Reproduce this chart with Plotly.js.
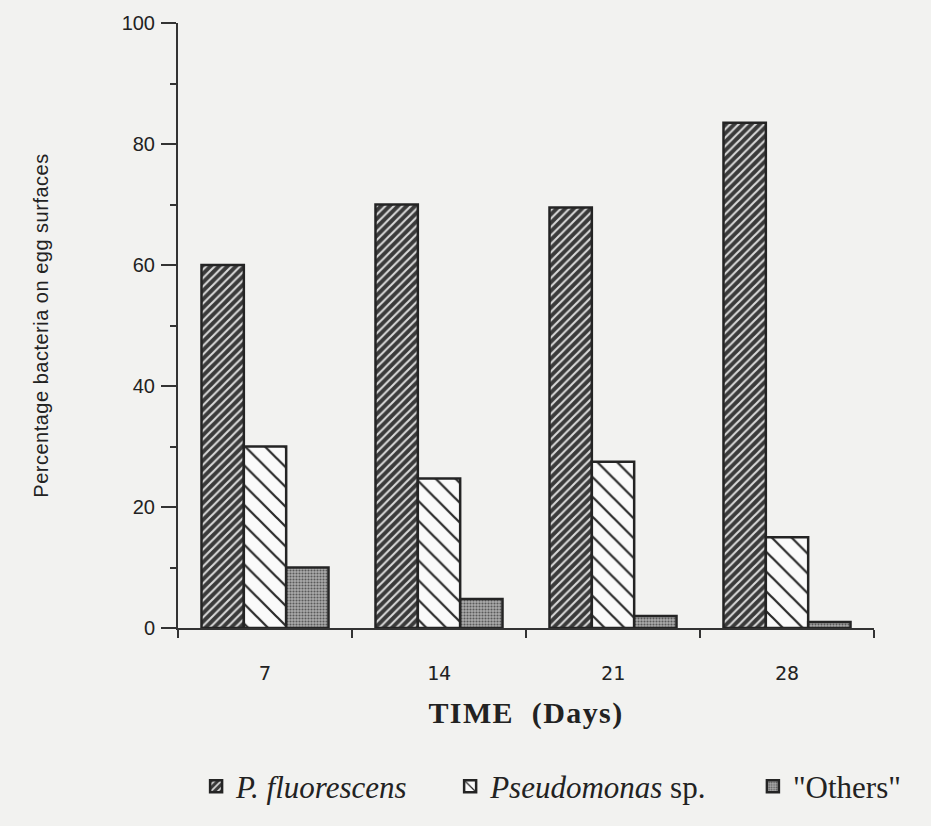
<!DOCTYPE html>
<html>
<head>
<meta charset="utf-8">
<script src="https://cdn.plot.ly/plotly-3.0.1.min.js"></script>
<style>
  html, body { margin: 0; padding: 0; background: #f2f2f0; }
  #chart { width: 931px; height: 826px; }
  #chart .g-xtitle text { letter-spacing: 1.4px; }
  #chart .g-ytitle text { letter-spacing: 0.5px; }
</style>
</head>
<body>
<div id="chart"></div>
<script>
// Categories (days)
const days = ['7', '14', '21', '28'];
// Series values (percentage of bacteria on egg surfaces)
const pFluorescens = [60, 70, 69.5, 83.5];
const pseudomonasSp = [30, 24.7, 27.5, 15];
const others = [10, 4.8, 2, 1];
// Axis ticks
const yTickVals = [0, 20, 40, 60, 80, 100];
const yTickText = ['0', '20', '40', '60', '80', '100'];
// Series names
const seriesNames = ['<i>P. fluorescens</i>', '<i>Pseudomonas</i> sp.', '"Others"'];

const edge = {color: '#242424', width: 2.5};

const traces = [
  {
    type: 'bar', x: days, y: pFluorescens, name: seriesNames[0], legend: 'legend',
    marker: {
      color: '#3c3c3c', line: edge,
      pattern: {shape: '/', bgcolor: '#3a3a3a', fgcolor: '#d9d9d9', size: 6, solidity: 0.35, fillmode: 'replace'}
    }
  },
  {
    type: 'bar', x: days, y: pseudomonasSp, name: seriesNames[1], legend: 'legend2',
    marker: {
      color: '#fafafa', line: edge,
      pattern: {shape: '\\', bgcolor: '#fafafa', fgcolor: '#2a2a2a', size: 14, solidity: 0.16, fillmode: 'replace'}
    }
  },
  {
    type: 'bar', x: days, y: others, name: seriesNames[2], legend: 'legend3',
    marker: {
      color: '#9a9a9a', line: edge,
      pattern: {shape: '.', bgcolor: '#ababab', fgcolor: '#5a5a5a', size: 3, solidity: 0.4, fillmode: 'replace'}
    }
  }
];

const legendFont = {family: 'Liberation Serif, Times New Roman, serif', size: 31, color: '#222'};
const legendBase = {orientation: 'h', y: -0.262, yanchor: 'middle', xanchor: 'left',
  bgcolor: 'rgba(0,0,0,0)', font: legendFont, itemclick: false};

const layout = {
  width: 931, height: 826,
  paper_bgcolor: '#f2f2f0', plot_bgcolor: '#f2f2f0',
  margin: {l: 178, r: 57, t: 23, b: 182},
  barmode: 'group', bargap: 0.27, bargroupgap: 0,
  showlegend: true,
  legend: Object.assign({}, legendBase, {x: 0.026}),
  legend2: Object.assign({}, legendBase, {x: 0.391}),
  legend3: Object.assign({}, legendBase, {x: 0.826}),
  xaxis: {
    type: 'category', tickson: 'boundaries',
    ticks: 'outside', ticklen: 8, tickwidth: 2, tickcolor: '#333',
    showline: true, linecolor: '#333', linewidth: 2, showgrid: false, zeroline: false,
    tickfont: {family: 'DejaVu Sans Mono, monospace', size: 20, color: '#222'},
    ticklabelstandoff: 26,
    title: {text: '<b>TIME  (Days)</b>', standoff: 18,
      font: {family: 'Liberation Serif, Times New Roman, serif', size: 30, color: '#222'}},
    automargin: false
  },
  yaxis: {
    range: [0, 100], tickvals: yTickVals, ticktext: yTickText,
    ticks: 'outside', ticklen: 15, tickwidth: 2, tickcolor: '#333',
    minor: {dtick: 10, ticks: 'outside', ticklen: 6, tickwidth: 2, tickcolor: '#333'},
    showline: true, linecolor: '#333', linewidth: 2, showgrid: false, zeroline: false,
    tickfont: {family: 'Liberation Sans, Arial, sans-serif', size: 20, color: '#222'},
    ticklabelstandoff: 2,
    title: {text: 'Percentage bacteria on egg surfaces', standoff: 68,
      font: {family: 'Liberation Sans, Arial, sans-serif', size: 20, color: '#222'}},
    automargin: false
  }
};

Plotly.newPlot('chart', traces, layout, {displayModeBar: false, staticPlot: true});
</script>
</body>
</html>
